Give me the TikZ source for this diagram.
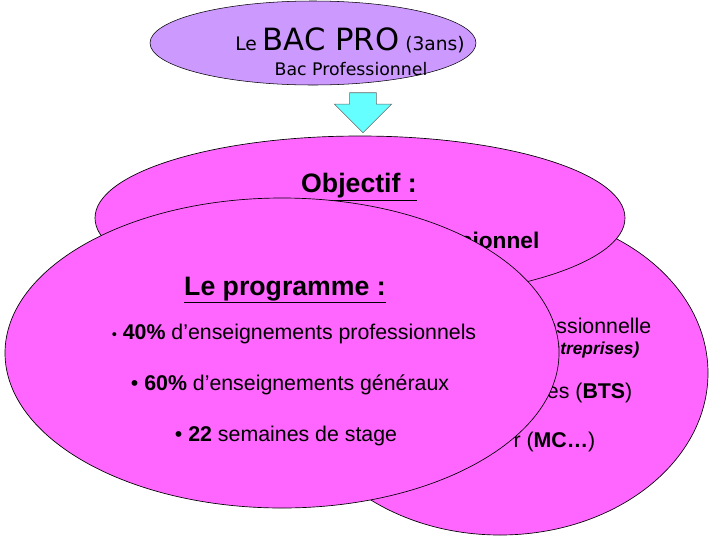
\documentclass[tikz,border=0pt]{standalone}
\usepackage{fontspec}
\setmainfont{Liberation Sans}
\newfontfamily\comic{DejaVu Sans}
\usetikzlibrary{shapes.arrows}
\definecolor{lav}{HTML}{CC99FF}
\definecolor{mag}{HTML}{FF66FF}
\definecolor{cy}{HTML}{66FFFF}
\tikzset{ell/.style={draw=black,line width=0.5pt,fill=mag},
 txt/.style={font=\fontsize{16}{19}\selectfont}}
\begin{document}
\begin{tikzpicture}[x=0.75pt,y=-0.75pt]
\useasboundingbox (0,0) rectangle (720,540);
% top ellipse
\draw[draw=black,fill=lav] (313,43) ellipse[x radius=163,y radius=42];
\node (t1) at (350,40) {\comic\fontsize{14}{16}\selectfont Le {\fontsize{23}{26}\selectfont BAC PRO} (3ans)};
\node (t2) at (351,69) {\comic\fontsize{13}{15}\selectfont Bac Professionnel};
% arrow
\node[single arrow,draw=black!60,fill=cy,shape border rotate=270,minimum width=43pt,minimum height=30pt,single arrow head extend=7pt,inner sep=0pt,text width=12pt] (ar) at (363,106) {};
% right ellipse
\draw[ell] (500,373) ellipse[x radius=208,y radius=162];
\node[txt,anchor=east] (r1) at (656,326) {essionnelle};
\node[anchor=east,font=\fontsize{13}{15}\selectfont\bfseries\itshape] (r2) at (644,350) {ntreprises)};
\node[txt,anchor=east] (r3) at (637,393) {es (\textbf{BTS})};
\node[txt,anchor=east] (r4) at (600,442) {r (\textbf{MC…})};
% objectif ellipse
\draw[ell] (360,218) ellipse[x radius=265,y radius=82];
\node[font=\fontsize{20}{24}\selectfont\bfseries] (o1) at (359,187) {\underline{Objectif :}};
\node[anchor=east,font=\fontsize{17}{20}\selectfont\bfseries] (o2) at (544,240) {sionnel};
% left ellipse
\draw[ell] (282,353) ellipse[x radius=277,y radius=155];
\node[font=\fontsize{20}{24}\selectfont\bfseries] (p0) at (285,290) {\underline{Le programme :}};
\node[txt] (p1) at (294,334) {{\fontsize{11}{13}\selectfont•} \textbf{40\%} d'enseignements professionnels};
\node[txt] (p2) at (290,385) {• \textbf{60\%} d'enseignements généraux};
\node[txt] (p3) at (286,436) {• \textbf{22} semaines de stage};
\end{tikzpicture}
\end{document}
